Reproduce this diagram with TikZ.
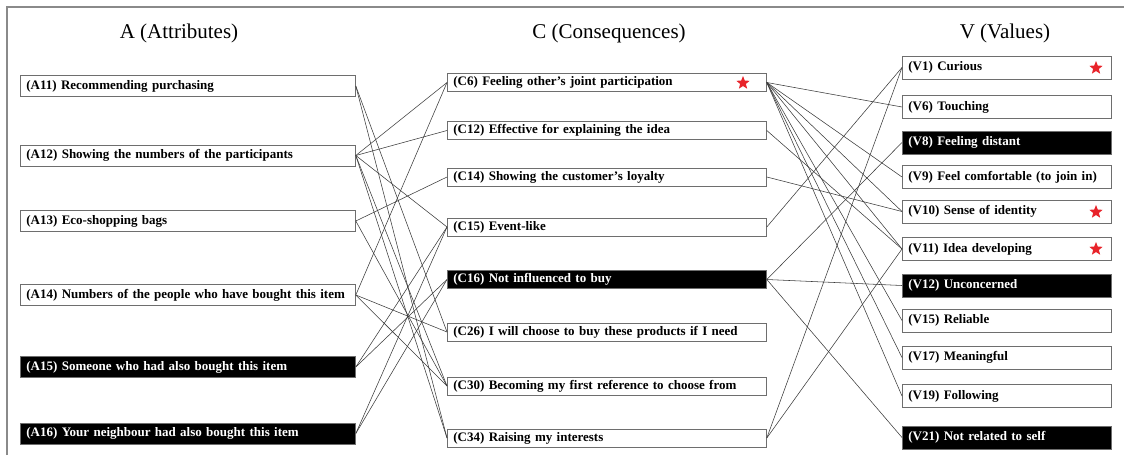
\documentclass[tikz,border=0pt]{standalone}
\usepackage{fontspec}
\setmainfont{Liberation Serif}
\usetikzlibrary{shapes.geometric}

\definecolor{boxgray}{HTML}{6E6E6E}
\definecolor{linkgray}{HTML}{3A3A3A}
\definecolor{framegray}{HTML}{8A8A8A}
\definecolor{starred}{HTML}{E8232A}

\tikzset{
  item/.style={draw=boxgray, line width=0.8pt, inner xsep=6pt, inner ysep=0pt,
    text height=9.5pt, text depth=3pt,
    align=left, anchor=west, font=\bfseries\fontsize{13}{15}\selectfont},
  abox/.style={item, text width=323pt, minimum height=21pt},
  cbox/.style={item, text width=307pt, minimum height=18pt},
  vbox/.style={item, text width=197pt, minimum height=23pt},
  dark/.style={fill=black, text=white},
  head/.style={font=\fontsize{21}{25}\selectfont},
  link/.style={draw=linkgray, line width=0.55pt},
  starmark/.style={star, star points=5, star point ratio=2.3, fill=starred,
    inner sep=0pt, minimum size=14pt},
}

\begin{document}
\begin{tikzpicture}[x=1pt,y=-1pt]
\useasboundingbox (0,0) rectangle (1124,455);

% outer frame
\draw[framegray, line width=1.2pt] (7,455) -- (7,7) -- (1124,7);

% column headings
\node[head] (hA) at (179,33) {A (Attributes)};
\node[head] (hC) at (609,33) {C (Consequences)};
\node[head] (hV) at (1005,33) {V (Values)};

% attributes
\node[abox] (A11) at (20,86) {(A11) Recommending purchasing};
\node[abox] (A12) at (20,155.5) {(A12) Showing the numbers of the participants};
\node[abox] (A13) at (20,221) {(A13) Eco-shopping bags};
\node[abox] (A14) at (20,295) {\mbox{(A14) Numbers of the people who have bought this item}};
\node[abox,dark] (A15) at (20,367) {(A15) Someone who had also bought this item};
\node[abox,dark] (A16) at (20,433.5) {(A16) Your neighbour had also bought this item};

% consequences
\node[cbox] (C6) at (447,82.5) {(C6) Feeling other's joint participation};
\node[cbox] (C12) at (447,130.5) {(C12) Effective for explaining the idea};
\node[cbox] (C14) at (447,177) {(C14) Showing the customer's loyalty};
\node[cbox] (C15) at (447,227) {(C15) Event-like};
\node[cbox,dark] (C16) at (447,279.5) {(C16) Not influenced to buy};
\node[cbox] (C26) at (447,332) {(C26) I will choose to buy these products if I need};
\node[cbox] (C30) at (447,386) {(C30) Becoming my first reference to choose from};
\node[cbox] (C34) at (447,438) {(C34) Raising my interests};

% values
\node[vbox] (V1) at (902,67.5) {(V1) Curious};
\node[vbox] (V6) at (902,107) {(V6) Touching};
\node[vbox,dark] (V8) at (902,142.5) {(V8) Feeling distant};
\node[vbox] (V9) at (902,177) {(V9) Feel comfortable (to join in)};
\node[vbox] (V10) at (902,211.5) {(V10) Sense of identity};
\node[vbox] (V11) at (902,249) {(V11) Idea developing};
\node[vbox,dark] (V12) at (902,285.5) {(V12) Unconcerned};
\node[vbox] (V15) at (902,320.5) {(V15) Reliable};
\node[vbox] (V17) at (902,357.5) {(V17) Meaningful};
\node[vbox] (V19) at (902,396) {(V19) Following};
\node[vbox,dark] (V21) at (902,437.5) {(V21) Not related to self};

% highlighted items
\node[starmark] (sC6) at (743,83) {};
\node[starmark] (sV1) at (1096,68) {};
\node[starmark] (sV10) at (1096,212) {};
\node[starmark] (sV11) at (1096,249) {};

% attribute -> consequence links
\foreach \a/\c in {A11/C26, A11/C34,
                   A12/C6, A12/C12, A12/C15, A12/C30, A12/C34,
                   A13/C14, A13/C30,
                   A14/C6, A14/C26, A14/C30,
                   A15/C15, A15/C16,
                   A16/C15, A16/C16}
  \draw[link] (\a.east) -- (\c.west);

% consequence -> value links
\foreach \c/\v in {C6/V6, C6/V9, C6/V10, C6/V11, C6/V15, C6/V17, C6/V19,
                   C12/V11, C14/V10, C15/V1,
                   C16/V8, C16/V12, C16/V21,
                   C34/V1, C34/V11}
  \draw[link] (\c.east) -- (\v.west);
\end{tikzpicture}
\end{document}
